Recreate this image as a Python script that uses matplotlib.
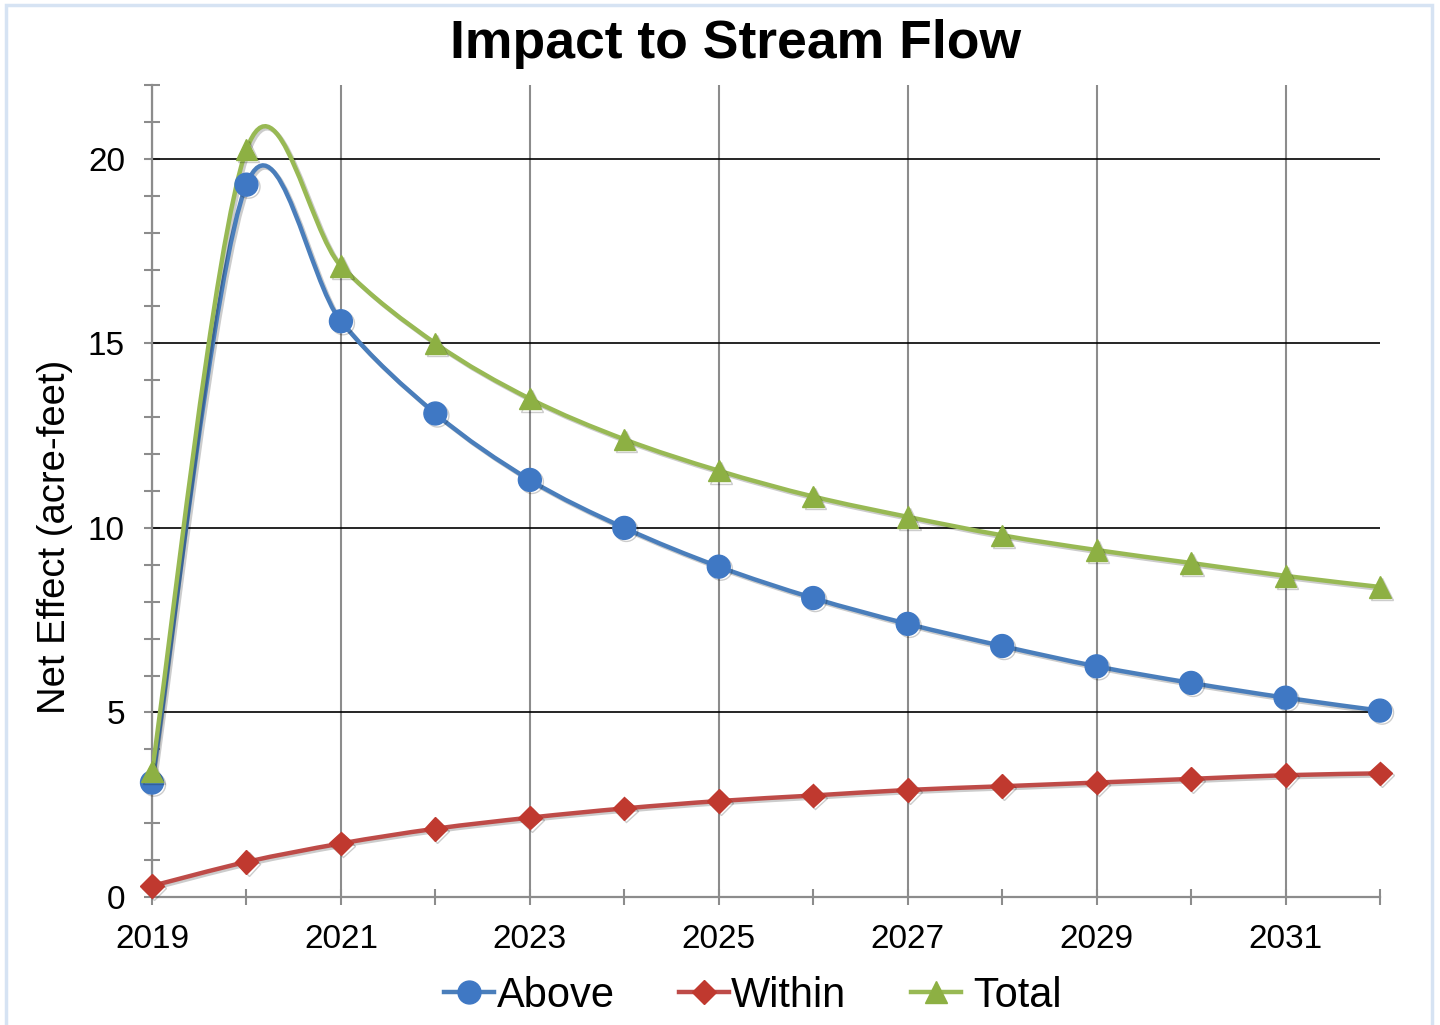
import matplotlib
matplotlib.use("Agg")
import matplotlib.pyplot as plt
from matplotlib.path import Path
from matplotlib.patches import PathPatch, Rectangle
from matplotlib.lines import Line2D
from matplotlib.ticker import MultipleLocator, FixedLocator
import matplotlib.patheffects as pe

plt.rcParams['font.family'] = ['Liberation Sans', 'DejaVu Sans']

years = [2019, 2020, 2021, 2022, 2023, 2024, 2025, 2026, 2027, 2028, 2029, 2030, 2031, 2032]
above = [3.1, 19.3, 15.6, 13.1, 11.3, 10.0, 8.95, 8.1, 7.4, 6.8, 6.25, 5.8, 5.4, 5.05]
within = [0.3, 0.95, 1.45, 1.85, 2.15, 2.4, 2.6, 2.75, 2.9, 3.0, 3.1, 3.2, 3.3, 3.35]
total = [3.4, 20.25, 17.1, 15.0, 13.5, 12.4, 11.55, 10.85, 10.3, 9.8, 9.4, 9.05, 8.7, 8.4]
series_names = ["Above", "Within", " Total"]
x_tick_labels = ["2019", "2021", "2023", "2025", "2027", "2029", "2031"]
y_tick_labels = ["0", "5", "10", "15", "20"]

colors = ["#4A7EBB", "#BE4B48", "#98B954"]
marker_colors = ["#3F78C4", "#C0392F", "#8DB043"]
markers = ["o", "D", "^"]
msizes = [16.5, 12, 15.5]

fig = plt.figure(figsize=(14.4, 10.25), dpi=100)
fig.patches.append(Rectangle((6 / 1440, -0.01), (1432 - 6) / 1440, 1.01 - 5 / 1025,
                             transform=fig.transFigure, fill=False,
                             edgecolor="#D6E3F3", linewidth=2.5, zorder=0))
ax = fig.add_axes([152 / 1440, 1 - 897 / 1025, (1380 - 152) / 1440, (897 - 85) / 1025])

ax.set_xlim(2019, 2032)
ax.set_ylim(0, 22)


def smooth_path(xs, ys):
    n = len(xs)
    verts = [(xs[0], ys[0])]
    codes = [Path.MOVETO]
    for i in range(n - 1):
        i0 = max(i - 1, 0)
        i3 = min(i + 2, n - 1)
        c1 = (xs[i] + (xs[i + 1] - xs[i0]) / 6.0, ys[i] + (ys[i + 1] - ys[i0]) / 6.0)
        c2 = (xs[i + 1] - (xs[i3] - xs[i]) / 6.0, ys[i + 1] - (ys[i3] - ys[i]) / 6.0)
        verts += [c1, c2, (xs[i + 1], ys[i + 1])]
        codes += [Path.CURVE4] * 3
    return Path(verts, codes)


shadow_line = [pe.SimpleLineShadow(offset=(1.5, -1.5), alpha=0.2), pe.Normal()]
handles = []
for vals, name, c, mc, m, ms in zip([above, within, total], series_names, colors,
                                     marker_colors, markers, msizes):
    patch = PathPatch(smooth_path(years, vals), fill=False, edgecolor=c, linewidth=3.2,
                      zorder=4, capstyle='round', joinstyle='round', path_effects=shadow_line)
    ax.add_patch(patch)
    ax.plot(years, vals, linestyle='none', marker=m, markersize=ms, color=mc,
            markeredgecolor=mc, zorder=5, clip_on=False, path_effects=shadow_line)
    handles.append(Line2D([], [], color=c, linewidth=3.2, marker=m, markersize=ms,
                          markerfacecolor=mc, markeredgecolor=mc, label=name))

# grid
for yv in [5, 10, 15, 20]:
    ax.axhline(yv, color="black", linewidth=1.2, zorder=2)
ax.xaxis.set_major_locator(FixedLocator([2019, 2021, 2023, 2025, 2027, 2029, 2031]))
ax.xaxis.set_minor_locator(FixedLocator([2020, 2022, 2024, 2026, 2028, 2030, 2032]))
ax.set_xticklabels(x_tick_labels)
ax.yaxis.set_major_locator(FixedLocator([0, 5, 10, 15, 20]))
ax.yaxis.set_minor_locator(MultipleLocator(1))
ax.set_yticklabels(y_tick_labels)
ax.grid(axis='x', which='major', color="#8C8C8C", linewidth=1.5, zorder=1)
ax.set_axisbelow(True)

for s in ["top", "right"]:
    ax.spines[s].set_visible(False)
for s in ["left", "bottom"]:
    ax.spines[s].set_color("#8C8C8C")
    ax.spines[s].set_linewidth(1.6)
    ax.spines[s].set_zorder(3)

ax.tick_params(which='both', direction='inout', length=11, width=1.5, color="#8C8C8C",
               labelsize=24, labelcolor="black")
ax.tick_params(axis='x', pad=14)
ax.tick_params(axis='y', pad=14)

ax.set_ylabel("Net Effect (acre-feet)", fontsize=27.5)
ax.yaxis.set_label_coords((73 - 152) / 1228, (897 - 537) / 812)
fig.text(736 / 1440, 1 - 44 / 1025, "Impact to Stream Flow", fontsize=38.5, fontweight='bold',
         ha='center', va='center')

fig.legend(handles=handles, loc='center', bbox_to_anchor=(753 / 1440, 1 - 996 / 1025),
           ncol=3, frameon=False, fontsize=30, handlelength=1.2, handletextpad=0.05,
           columnspacing=1.55)

fig.savefig("out.png", dpi=100, facecolor="white")
